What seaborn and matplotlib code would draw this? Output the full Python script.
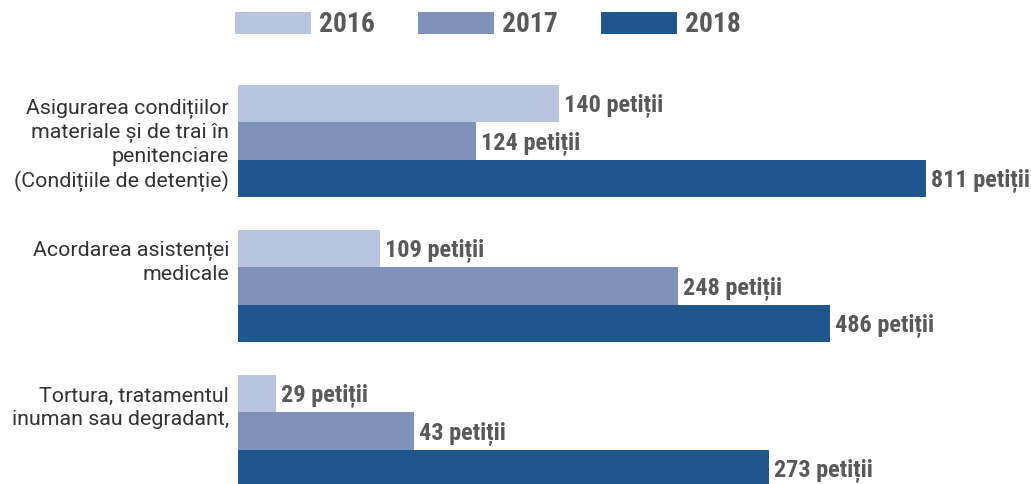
import matplotlib
matplotlib.use("Agg")
import matplotlib.pyplot as plt
from matplotlib import font_manager
from matplotlib.patches import Patch
import seaborn as sns
import pandas as pd

# ---- data ----
categories = [
    "Asigurarea condițiilor\nmateriale și de trai în\npenitenciare\n(Condițiile de detenție)",
    "Acordarea asistenței\nmedicale",
    "Tortura, tratamentul\ninuman sau degradant,",
]
years = ["2016", "2017", "2018"]
petitii_2016 = [140, 109, 29]
petitii_2017 = [124, 248, 43]
petitii_2018 = [811, 486, 273]
# bar lengths as drawn in the reference (not proportional to the counts)
length_2016 = [321, 142, 38]
length_2017 = [238, 440, 176]
length_2018 = [688, 592, 531]
colors = ["#B9C4DE", "#7E92BA", "#1F568C"]

rows = []
for yr, cnts, lens in zip(years, [petitii_2016, petitii_2017, petitii_2018],
                          [length_2016, length_2017, length_2018]):
    for cat, c, l in zip(categories, cnts, lens):
        rows.append({"cat": cat, "year": yr, "count": c, "length": l})
df = pd.DataFrame(rows)

sns.set_theme(style="white")


def pick(cands, weight):
    for f in cands:
        try:
            font_manager.findfont(font_manager.FontProperties(family=f, weight=weight),
                                  fallback_to_default=False)
            return f
        except Exception:
            continue
    return "DejaVu Sans"


bold_family = pick(["Roboto Condensed", "Liberation Sans Narrow", "Roboto"], "bold")
condensed = bold_family != "Roboto"
plt.rcParams["font.family"] = ["Roboto", "DejaVu Sans"]

W, H = 1031, 484
fig = plt.figure(figsize=(W / 100, H / 100), dpi=100)
ax = fig.add_axes([238 / W, 0, 1 - 238 / W, 1])

sns.barplot(data=df, y="cat", x="length", hue="year", hue_order=years,
            palette=colors, saturation=1, orient="h", width=0.774, linewidth=0,
            legend=False, ax=ax, errorbar=None)

ax.set_xlim(0, 793)
ax.set_ylim(2.366, -0.972)
ax.set_xticks([])
ax.set_yticks([])
ax.set_xlabel("")
ax.set_ylabel("")
sns.despine(ax=ax, left=True, bottom=True)

val_size = 17.5 if condensed else 15
leg_size = 19.8 if condensed else 17
label_color = "#58595B"

# value labels
for container, yr, cnts in zip(ax.containers, years,
                               [petitii_2016, petitii_2017, petitii_2018]):
    for bar, c in zip(container, cnts):
        yc = bar.get_y() + bar.get_height() / 2
        ax.annotate(f"{c} petiții", xy=(bar.get_width(), yc),
                    xytext=(3.5, -0.36 * val_size), textcoords="offset points",
                    ha="left", va="baseline", fontsize=val_size,
                    fontweight="bold", family=[bold_family, "DejaVu Sans"],
                    color=label_color, annotation_clip=False)

# category labels
offsets = [0.03, -0.16, -0.16]
for i, (cat, off) in enumerate(zip(categories, offsets)):
    ax.text(-9, i + off, cat, ha="right", va="center", fontsize=15.4,
            linespacing=1.27, color="#333333", clip_on=False, multialignment="right")

fs_px = leg_size * 100 / 72
handles = [Patch(facecolor=c, edgecolor="none", label=y) for c, y in zip(colors, years)]
leg = fig.legend(handles=handles, loc="center", bbox_to_anchor=(488 / W, 1 - 25 / H),
                 ncol=3, frameon=False, handlelength=76 / fs_px, handleheight=23 / fs_px,
                 handletextpad=8 / fs_px, columnspacing=43 / fs_px, borderaxespad=0,
                 borderpad=0,
                 prop={"family": [bold_family, "DejaVu Sans"], "weight": "bold", "size": leg_size})
for t in leg.get_texts():
    t.set_color(label_color)

fig.savefig("out.png", dpi=100)
